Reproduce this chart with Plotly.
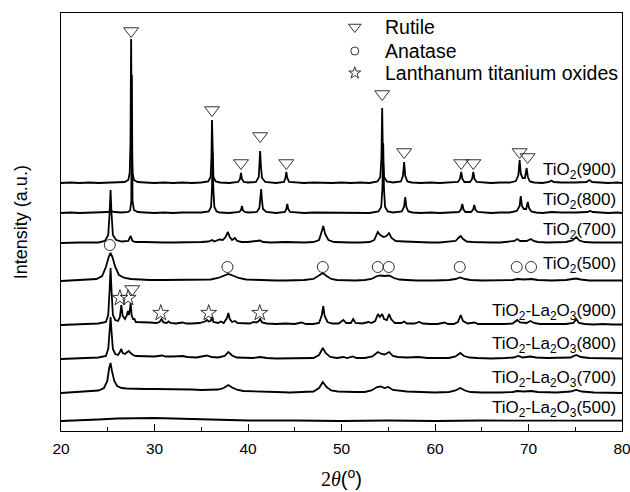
import plotly.graph_objects as go

# ---------------- data (x in degrees 2theta, height above own baseline, a.u.) ----------------
TIO2_900 = [(20,0),(21,0.5),(22,0),(23,0.5),(24,0),(25,0.5),(26,0.5),(26.8,1),(27.2,3),(27.35,10),(27.43,40),(27.5,144),(27.57,40),(27.65,10),(27.8,3),(28.2,1),(29,0.5),(30,0),(31,0.5),(32,0),(33,0.5),(34,0),(35,0.5),(35.75,1.5),(36.0,6),(36.09,25),(36.15,63),(36.21,25),(36.3,6),(36.55,1.5),(37,0.5),(38,0),(38.95,1),(39.15,4),(39.25,10),(39.35,4),(39.55,1),(40,0.5),(40.85,1),(41.15,6),(41.25,20),(41.3,32),(41.37,18),(41.5,5),(41.85,1),(42.5,0.5),(43,0),(43.85,1),(44.0,5),(44.1,11),(44.2,5),(44.4,1),(45,0.5),(46,0),(47,0.5),(48,0),(48.5,0.5),(49,0),(50,0.5),(51,0),(52,0.5),(53,0),(53.85,1.5),(54.15,6),(54.27,25),(54.35,75),(54.43,25),(54.55,6),(54.85,1.5),(55.5,0.5),(56.35,1.5),(56.57,7),(56.7,21),(56.82,7),(57.05,1.5),(57.5,0.5),(58.5,0),(59.5,0.5),(60.5,0),(61.5,0.5),(62.45,1),(62.67,4),(62.8,11),(62.93,4),(63.15,1),(63.75,1),(63.97,4),(64.1,11),(64.22,4),(64.45,1),(65,0.5),(66,0),(67,0.5),(68,0.5),(68.65,2),(68.92,8),(69.05,23),(69.18,9),(69.38,5),(69.62,5),(69.8,15),(69.93,6),(70.15,1.5),(70.6,0.5),(71.5,0),(72.2,1),(72.45,2.5),(72.7,1),(73.5,0.5),(74.5,0),(75,0.5),(76.2,1),(76.5,3),(76.8,1),(77.5,0.5),(78.5,0),(79.5,0.5),(80,0)]

TIO2_800 = [(20,0),(21,0.5),(22,0),(23,0.5),(24,0.5),(25,1),(25.35,2),(25.7,1),(26.5,0.5),(27.2,1),(27.4,3),(27.52,12),(27.58,138),(27.65,12),(27.8,3),(28.2,1),(29,0.5),(30,0),(31,0.5),(32,0),(33,0.5),(34,0.5),(35,0.5),(35.8,1.5),(36.05,6),(36.15,25),(36.22,60),(36.29,25),(36.4,6),(36.65,1.5),(37,0.5),(38,0),(39.05,1),(39.25,3),(39.35,7),(39.45,3),(39.65,1),(40,0.5),(40.95,1),(41.22,5),(41.35,16),(41.41,24),(41.48,14),(41.6,4),(41.95,1),(42.5,0.5),(43,0),(43.95,1),(44.1,4),(44.2,9),(44.3,4),(44.5,1),(45,0.5),(46,0),(47,0.5),(48,0.5),(48.5,0.5),(49,0),(50,0.5),(51,0),(52,0.5),(53,0),(53.95,1.5),(54.25,6),(54.38,25),(54.46,70),(54.54,25),(54.66,6),(54.95,1.5),(55.5,0.5),(56.45,1.5),(56.68,6),(56.82,16),(56.94,6),(57.15,1.5),(57.6,0.5),(58.5,0),(59.5,0.5),(60.5,0),(61.5,0.5),(62.55,1),(62.78,3.5),(62.92,9),(63.05,3.5),(63.25,1),(63.85,1),(64.08,3.5),(64.2,8),(64.32,3.5),(64.55,1),(65,0.5),(66,0),(67,0.5),(68,0.5),(68.75,2),(69.05,7),(69.17,17),(69.3,7),(69.5,4),(69.75,4),(69.92,11),(70.05,5),(70.3,1.5),(70.8,0.5),(71.5,0),(72.5,1),(73.5,0.5),(74.5,0),(75,0.5),(76.3,1),(76.6,2),(76.9,1),(77.5,0.5),(78.5,0),(79.5,0.5),(80,0)]

TIO2_700 = [(20,0),(21,0.5),(22,0.5),(23,0.5),(24,0.5),(24.7,2),(25.05,8),(25.2,30),(25.3,53),(25.4,30),(25.55,8),(25.9,3),(26.5,1.5),(27.2,2),(27.45,7),(27.65,2),(28,1),(29,1),(30,0.5),(31,0.5),(32,0.5),(33,0.5),(34,0.5),(35,1),(35.8,1.5),(36.15,3),(36.4,1.5),(36.95,3.5),(37.3,3),(37.6,6),(37.85,11),(38.05,6),(38.3,3),(38.6,5),(38.85,2),(39.3,1),(40,1),(41.3,2.5),(41.6,1),(42.5,0.5),(44,1),(45,0.5),(46,0.5),(47,1),(47.6,3),(47.9,12),(48.05,17),(48.25,9),(48.6,3),(49.2,1),(50,0.5),(51,0.5),(52,0.5),(53,1),(53.5,3),(53.88,11),(54.15,8),(54.5,6),(54.8,7),(55.08,10),(55.35,5),(55.8,2),(56.7,1.5),(57.5,1),(58.5,0.5),(59.5,0.5),(60.5,0.5),(61.5,1),(62.2,2),(62.5,5),(62.75,7),(63.0,4),(63.4,1.5),(64,1),(65,0.5),(66,0.5),(67,0.5),(68,1),(68.5,2),(68.8,4),(69.1,2),(69.8,2),(70.25,4),(70.55,2),(71,1),(72,0.5),(73,0.5),(74,1),(74.7,2.5),(75.1,6),(75.45,2.5),(76,1),(77,0.5),(78,0.5),(79,0.5),(80,0.5)]

TIO2_500 = [(20,0),(21,0.5),(22,0.5),(23,1),(23.8,2),(24.4,5),(24.8,14),(25.1,24),(25.3,28),(25.5,24),(25.8,14),(26.2,6),(26.8,3),(27.5,2),(28.5,1.5),(29.5,1),(31,1),(32.5,1),(34,1),(35,1),(36,1.5),(36.8,3),(37.4,5),(37.9,7),(38.5,5),(39,3),(39.8,1.5),(41,1),(42,0.5),(43,0.5),(44,0.5),(45,0.5),(46,1),(47,2),(47.6,6),(48.0,8),(48.4,5),(48.9,2),(49.5,1),(50.5,0.5),(51.5,0.5),(52.5,1),(53.2,2),(53.7,4.5),(54.1,5.5),(54.6,5),(55.1,5.5),(55.6,3),(56.2,1.5),(57,1),(58,0.5),(60,0.5),(61.5,1),(62.2,2),(62.7,3.5),(63.2,2),(63.8,1),(65,0.5),(67,0.5),(68.3,1),(68.8,2),(69.5,1.5),(70.3,2),(71,1),(72.5,0.5),(74,1),(74.7,2),(75.1,2.5),(75.6,1.5),(76.5,0.5),(78,0.5),(80,0.5)]

LA_900 = [(20,0),(21,0.5),(22,1),(23,1),(24,1.5),(24.8,3),(25.05,10),(25.2,35),(25.3,57),(25.4,35),(25.55,10),(25.8,5),(26.1,4),(26.3,8),(26.45,20),(26.6,9),(26.85,6),(27.05,10),(27.15,14),(27.25,10),(27.35,14),(27.45,22),(27.55,10),(27.7,6),(27.85,6),(28,3),(28.5,3),(29,2.5),(29.5,2.5),(30.2,2),(30.55,3),(30.75,6),(30.95,2.5),(31.3,2),(31.5,3.5),(31.7,2),(32.3,1.5),(33,2.5),(33.4,1.5),(34,1.5),(34.8,2),(35.4,3.5),(35.6,5),(35.8,3.5),(36.0,4),(36.15,8),(36.3,3),(36.8,2),(37.1,3.5),(37.4,2),(37.75,7),(37.9,12),(38.05,6),(38.3,3),(38.6,4),(38.9,2),(39.5,1.5),(40.2,1.5),(40.6,3),(40.9,2.5),(41.15,4),(41.3,6),(41.5,2.5),(42,1.5),(43,1),(44,1.5),(45,1),(45.7,2.5),(46.2,1),(47,1),(47.6,2),(47.9,10),(48.05,19),(48.2,9),(48.5,3),(49,1.5),(49.7,1.5),(50.2,5),(50.5,2),(51,2),(51.25,6),(51.5,2),(52.2,1.5),(52.9,3),(53.2,2),(53.6,4),(53.9,11),(54.1,8),(54.35,11),(54.55,6),(54.85,5),(55.1,11),(55.3,6),(55.7,2),(56.4,2),(56.7,3.5),(57,1.5),(57.8,1.5),(58.3,3),(58.7,1.5),(59.5,1),(60.3,1),(61,2.5),(61.4,1),(62,1),(62.45,3),(62.75,10),(63.0,4),(63.5,1.5),(64.2,2.5),(64.6,1),(65.5,1),(66.5,0.5),(67.5,1),(68.3,1.5),(68.8,5),(69.1,2.5),(69.8,2),(70.2,4),(70.6,2),(71.2,1),(72,1),(73,0.5),(74,1),(74.8,2),(75.1,6),(75.4,2),(76,1),(77,0.5),(78,1),(79,0.5),(80,0.5)]

LA_800 = [(20,0),(21,0.5),(22,1),(23,1),(24,1.5),(24.8,3),(25.05,10),(25.2,28),(25.3,42),(25.4,28),(25.55,10),(25.8,5),(26.1,4),(26.3,7),(26.45,10),(26.6,6),(26.85,5),(27.1,7),(27.25,8),(27.45,6),(27.7,4),(28,3),(29,2.5),(30,2.5),(30.8,3.5),(31.2,2.5),(32,2.5),(33,3),(33.5,2),(34.5,1.5),(35.6,3.5),(36.1,2),(36.8,1.5),(37.5,3),(37.9,7),(38.3,3.5),(38.8,1.5),(39.5,1),(40.5,1),(41.3,2),(42,1),(43,0.5),(44,0.5),(45,0.5),(46,0.5),(47,1),(47.6,4),(48.0,11),(48.3,6),(48.8,2),(49.5,1),(50.2,2),(50.6,1),(51.2,2.5),(51.6,1),(52.5,1),(53.3,2.5),(53.9,7),(54.3,5),(54.6,4.5),(55.1,7),(55.5,3),(56,2),(57,1.5),(58.2,2),(59.2,1),(60.5,1),(61.5,1),(62.2,2.5),(62.7,6),(63.1,3),(63.7,1.5),(64.5,1),(66,0.5),(67.5,1),(68.4,1.5),(68.9,3),(69.4,1.5),(70.2,2.5),(70.8,1.5),(72,1),(73.5,1),(74.5,1.5),(75.1,4),(75.6,2),(76.5,1),(78,1),(80,0.5)]

LA_700 = [(20,0),(21,0.5),(22,1),(23,1.5),(24,2.5),(24.6,5),(24.95,12),(25.15,25),(25.3,30),(25.45,22),(25.7,12),(26,7),(26.5,5),(27,4.5),(28,4),(29,4),(30,4),(31,4),(32,4),(33,3.5),(34,3.5),(35,3),(36,3),(36.8,3.5),(37.4,5),(37.9,8),(38.3,5.5),(38.9,3),(39.5,2),(40.5,1.5),(41.5,1),(43,1),(44.5,0.5),(46,1),(47,1.5),(47.6,5),(48.0,11),(48.4,6),(48.9,2.5),(49.6,1.5),(50.5,1),(51.5,1),(52.5,1),(53.2,2.5),(53.8,6),(54.2,6.5),(54.6,5),(55.0,6),(55.5,3),(56.2,2),(57,1.5),(58.5,1),(60,0.5),(61.5,1),(62.2,2.5),(62.7,5),(63.2,2.5),(63.8,1),(65,0.5),(67,0.5),(68.3,1),(68.8,2),(69.5,1.5),(70.3,2),(71,1),(73,0.5),(74.5,1.5),(75.1,3),(75.7,1.5),(77,0.5),(80,0)]

LA_500 = [(20,0),(22,0.5),(24,1.5),(26,2.5),(28,3),(30,3),(32,2.5),(34,2),(36,1.5),(38,1),(40,0.5),(45,0.5),(50,0),(55,0.5),(60,0),(65,0.5),(70,0.3),(75,0.5),(80,0.3)]

SERIES = [TIO2_900, TIO2_800, TIO2_700, TIO2_500, LA_900, LA_800, LA_700, LA_500]
OFFSETS = [248, 218, 188, 150, 106, 72, 38, 10]
LABELS = ["TiO<sub>2</sub>(900)", "TiO<sub>2</sub>(800)", "TiO<sub>2</sub>(700)", "TiO<sub>2</sub>(500)",
          "TiO<sub>2</sub>-La<sub>2</sub>O<sub>3</sub>(900)", "TiO<sub>2</sub>-La<sub>2</sub>O<sub>3</sub>(800)",
          "TiO<sub>2</sub>-La<sub>2</sub>O<sub>3</sub>(700)", "TiO<sub>2</sub>-La<sub>2</sub>O<sub>3</sub>(500)"]

# phase markers (peak position, marker level)
RUTILE_X = [27.5, 36.15, 39.25, 41.3, 44.1, 54.35, 56.7, 62.8, 64.1, 69.05, 69.9, 27.62]
RUTILE_Y = [400, 321, 268, 295, 268, 337, 279, 268, 268, 279, 274, 142]
ANATASE_X = [25.22, 37.8, 48.0, 53.88, 55.06, 62.65, 68.74, 70.27]
ANATASE_Y = [186, 164, 164, 164, 164, 164, 164, 164]
LTO_X = [26.3, 27.18, 30.67, 35.8, 41.26]
LTO_Y = [133, 133, 118, 118, 118]
LEGEND_NAMES = ["Rutile", "Anatase", "Lanthanum titanium oxides"]

fig = go.Figure()
for s, off in zip(SERIES, OFFSETS):
    fig.add_trace(go.Scatter(x=[p[0] for p in s], y=[p[1] + off for p in s], mode="lines",
                             line=dict(color="black", width=1.8), showlegend=False, hoverinfo="skip"))

mk_line = dict(color="#333333", width=1)
fig.add_trace(go.Scatter(x=RUTILE_X, y=RUTILE_Y, mode="markers", showlegend=False,
                         marker=dict(symbol="triangle-down-open", size=13, color="#333333", line=mk_line)))
fig.add_trace(go.Scatter(x=ANATASE_X, y=ANATASE_Y, mode="markers", showlegend=False,
                         marker=dict(symbol="circle-open", size=11, color="#333333", line=mk_line)))
fig.add_trace(go.Scatter(x=LTO_X, y=LTO_Y, mode="markers", showlegend=False,
                         marker=dict(symbol="star-open", size=12, color="#333333", line=mk_line)))

# legend (manual)
leg_y = [404, 380, 358]
for sym, yy, sz in zip(["triangle-down-open", "circle-open", "star-open"], leg_y, [11, 8, 9]):
    fig.add_trace(go.Scatter(x=[51.42], y=[yy], mode="markers", showlegend=False,
                             marker=dict(symbol=sym, size=sz, color="#333333", line=mk_line)))
for name, yy in zip(LEGEND_NAMES, leg_y):
    fig.add_annotation(x=54.4, y=yy, xref="x", yref="y", text=name, showarrow=False,
                       xanchor="left", yanchor="middle", font=dict(size=19.5, color="black"))

label_y = [260, 230, 200, 166, 119, 86, 52, 22]
for lab, yy in zip(LABELS, label_y):
    fig.add_annotation(x=0.992, y=yy, xref="paper", yref="y", text=lab, showarrow=False,
                       xanchor="right", yanchor="middle", font=dict(size=17, color="black"))

fig.add_annotation(x=-0.071, y=0.5, xref="paper", yref="paper", text="Intensity (a.u.)",
                   showarrow=False, textangle=-90, xanchor="center", yanchor="middle",
                   font=dict(size=18, color="black"))

fig.update_layout(
    width=630, height=492,
    margin=dict(l=61, r=8, t=13, b=61, autoexpand=False),
    paper_bgcolor="white", plot_bgcolor="white",
    font=dict(family="Liberation Sans, Arial, sans-serif", color="black"),
    xaxis=dict(range=[20, 80], tickmode="array", tickvals=[20, 30, 40, 50, 60, 70, 80],
               ticks="inside", ticklen=7, tickwidth=1, tickcolor="black", automargin=False,
               ticklabeloverflow="allow",
               minor=dict(dtick=5, ticks="inside", ticklen=4, tickwidth=1, tickcolor="black"),
               showline=True, linecolor="black", linewidth=1.2, mirror=True,
               showgrid=False, zeroline=False, tickfont=dict(size=15.5), ticklabelstandoff=3,
               title=dict(text="<span style='font-family:Liberation Serif'>2<i>θ</i></span>(<sup>o</sup>)",
                          font=dict(size=20), standoff=16)),
    yaxis=dict(range=[0, 418], showticklabels=False, ticks="", showline=True, linecolor="black",
               linewidth=1.2, mirror=True, showgrid=False, zeroline=False, automargin=False),
)

fig.write_html("out.html")
